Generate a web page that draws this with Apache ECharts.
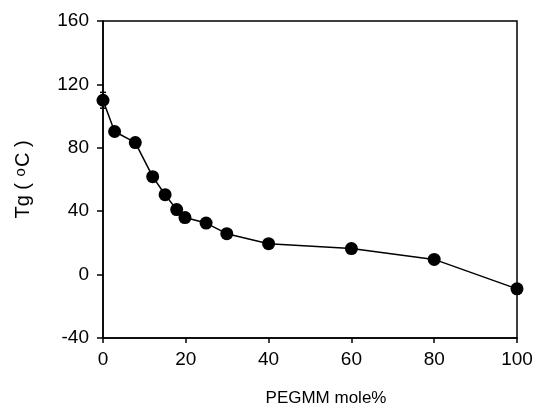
<!DOCTYPE html>
<html>
<head>
<meta charset="utf-8">
<script src="https://cdn.jsdelivr.net/npm/echarts@6/dist/echarts.min.js"></script>
<style>
html,body{margin:0;padding:0;background:#fff;}
#chart{width:538px;height:413px;}
</style>
</head>
<body>
<div id="chart"></div>
<script>
const pegmm = [0, 2.8, 7.8, 12, 15, 17.8, 19.8, 24.9, 29.9, 40, 60, 80, 100];
const tg = [110, 90.3, 83.3, 61.8, 50.4, 41, 36, 32.5, 25.8, 19.5, 16.4, 9.6, -9];
const tgErr = [5, 3, 3, 3, 3, 3, 3, 2, 2, 2, 2, 2, 3];
const xTicks = [0, 20, 40, 60, 80, 100];
const yTicks = [-40, 0, 40, 80, 120, 160];

const chart = echarts.init(document.getElementById('chart'));
const font = 'Liberation Sans, Arial, sans-serif';
chart.setOption({
  animation: false,
  backgroundColor: '#fff',
  grid: { left: 103, right: 21, top: 21, bottom: 75, show: true, borderColor: '#000', borderWidth: 1.5 },
  xAxis: {
    type: 'value', min: xTicks[0], max: xTicks[xTicks.length - 1], interval: 20,
    name: 'PEGMM mole%', nameLocation: 'middle', nameGap: 52,
    nameTextStyle: { fontFamily: font, fontSize: 17, color: '#000', padding: [0, 0, 0, 32] },
    axisLine: { onZero: false, lineStyle: { color: '#000', width: 1.5 } },
    axisTick: { inside: false, length: 5, lineStyle: { color: '#000', width: 1.5 } },
    axisLabel: { fontFamily: font, fontSize: 19, color: '#000', margin: 12 },
    splitLine: { show: false }
  },
  yAxis: {
    type: 'value', min: yTicks[0], max: yTicks[yTicks.length - 1], interval: 40,
    name: '{n|Tg ( }{s|o}{n|C )}', nameLocation: 'middle', nameGap: 70, nameRotate: 90,
    nameTextStyle: { rich: {
      n: { fontFamily: font, fontSize: 20, color: '#000' },
      s: { fontFamily: font, fontSize: 15, color: '#000', verticalAlign: 'top', padding: [0, 1, 5, 1] }
    } },
    axisLine: { onZero: false, lineStyle: { color: '#000', width: 1.5 } },
    axisTick: { inside: false, length: 6, lineStyle: { color: '#000', width: 1.5 } },
    axisLabel: { fontFamily: font, fontSize: 19, color: '#000', margin: 14 },
    splitLine: { show: false }
  },
  series: [
    {
      type: 'custom',
      data: pegmm.map((x, i) => [x, tg[i] - tgErr[i], tg[i] + tgErr[i]]),
      renderItem: function (params, api) {
        const lo = api.coord([api.value(0), api.value(1)]);
        const hi = api.coord([api.value(0), api.value(2)]);
        return {
          type: 'group',
          children: [
            { type: 'line', shape: { x1: lo[0], y1: lo[1], x2: hi[0], y2: hi[1] }, style: { stroke: '#000', lineWidth: 1.5 } },
            { type: 'line', shape: { x1: lo[0] - 3, y1: lo[1], x2: lo[0] + 3, y2: lo[1] }, style: { stroke: '#000', lineWidth: 1.5 } },
            { type: 'line', shape: { x1: hi[0] - 3, y1: hi[1], x2: hi[0] + 3, y2: hi[1] }, style: { stroke: '#000', lineWidth: 1.5 } }
          ]
        };
      },
      z: 1
    },
    {
      type: 'line',
      data: pegmm.map((x, i) => [x, tg[i]]),
      symbol: 'circle', symbolSize: 13,
      lineStyle: { color: '#000', width: 1.5 },
      itemStyle: { color: '#000' },
      z: 2
    }
  ]
});
</script>
</body>
</html>
